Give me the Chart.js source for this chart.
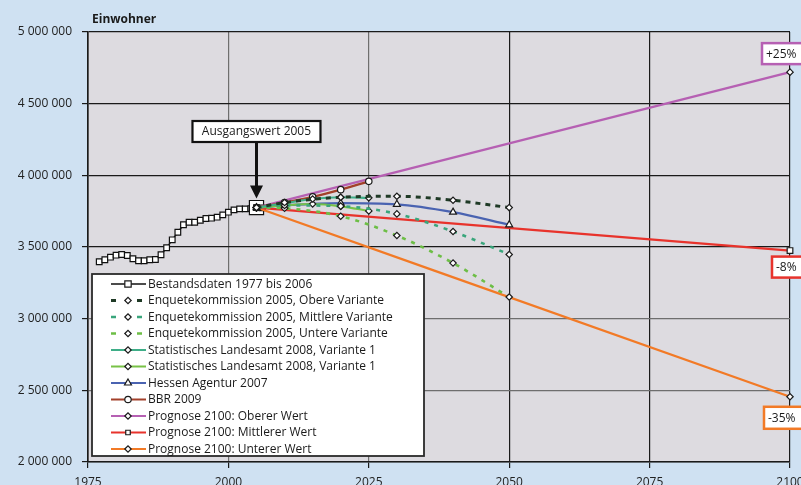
<!DOCTYPE html>
<html>
<head>
<meta charset="utf-8">
<script src="https://cdn.jsdelivr.net/npm/chart.js@4/dist/chart.umd.min.js"></script>
<style>
  html, body { margin: 0; padding: 0; background: #cfe1f2; overflow: hidden; }
  canvas { display: block; }
</style>
</head>
<body>
<canvas id="mycanvas" width="801" height="485"></canvas>
<script>
// Bestandsdaten 1977 bis 2006
var histYears = [1977, 1978, 1979, 1980, 1981, 1982, 1983, 1984, 1985, 1986,
                 1987, 1988, 1989, 1990, 1991, 1992, 1993, 1994, 1995, 1996,
                 1997, 1998, 1999, 2000, 2001, 2002, 2003, 2004, 2005, 2006];
var histValues = [3397000, 3411000, 3429000, 3443000, 3448000, 3441000, 3418000, 3404000, 3404000, 3411000,
                  3413000, 3446000, 3495000, 3550000, 3603000, 3655000, 3673000, 3673000, 3687000, 3699000,
                  3701000, 3708000, 3724000, 3743000, 3759000, 3766000, 3766000, 3768000, 3775000, 3773000];

// Enquetekommission 2005
var enqYears = [2005, 2010, 2020, 2030, 2040, 2050];
var enqOben = [3775000, 3810000, 3847000, 3854000, 3826000, 3775000];
var enqMitte = [3775000, 3790000, 3785000, 3731000, 3608000, 3448000];
var enqUnten = [3775000, 3770000, 3715000, 3580000, 3388000, 3151000];

// Statistisches Landesamt 2008
var slaYears = [2005, 2010, 2015, 2020, 2025];
var sla1 = [3775000, 3805000, 3835000, 3847000, 3843000];
var sla2 = [3775000, 3790000, 3800000, 3784000, 3752000];

// Hessen Agentur 2007
var hesYears = [2005, 2010, 2020, 2030, 2040, 2050];
var hesValues = [3775000, 3790000, 3806000, 3798000, 3743000, 3655000];

// BBR 2009
var bbrYears = [2005, 2010, 2015, 2020, 2025];
var bbrValues = [3775000, 3810000, 3850000, 3900000, 3958000];

// Prognose 2100
var progYears = [2005, 2100];
var progOben = [3775000, 4720000];
var progMitte = [3775000, 3475000];
var progUnten = [3775000, 2455000];
var progLabels = ['+25%', '-8%', '-35%'];

var xTicks = [1975, 2000, 2025, 2050, 2075, 2100];
var yTicks = [2000000, 2500000, 3000000, 3500000, 4000000, 4500000, 5000000];

function zip(xs, ys) {
  var out = [];
  for (var i in xs) out.push({x: xs[i], y: ys[i]});
  return out;
}
function fmt(v) {
  return String(v).replace(/\B(?=(\d{3})+(?!\d))/g, ' ');
}

var FONT = "'Open Sans', sans-serif";
var MARK = '#1a1a1a';

function proj(label, xs, ys, color, style, extra) {
  var ds = {
    label: label,
    data: zip(xs, ys),
    borderColor: color,
    borderWidth: 2.2,
    pointStyle: style,
    pointRadius: style === 'triangle' ? 4 : 3.2,
    pointBackgroundColor: '#fff',
    pointBorderColor: MARK,
    pointBorderWidth: 1.2,
    cubicInterpolationMode: 'monotone',
    clip: false,
    order: 1
  };
  for (var k in extra) ds[k] = extra[k];
  return ds;
}

var histRadius = histYears.map(function(y) { return y === 2005 ? 10 : 4; });

var datasets = [
  {
    label: 'Bestandsdaten 1977 bis 2006',
    data: zip(histYears, histValues),
    borderColor: '#111',
    borderWidth: 1.5,
    pointStyle: 'rect',
    pointRadius: histRadius,
    pointBackgroundColor: '#fff',
    pointBorderColor: '#111',
    pointBorderWidth: 1.2,
    legendRadius: 4.5,
    clip: false,
    order: 20
  },
  proj('Enquetekommission 2005, Obere Variante', enqYears, enqOben, '#1f3a26', 'rectRot', {borderDash: [5, 5], borderWidth: 3}),
  proj('Enquetekommission 2005, Mittlere Variante', enqYears, enqMitte, '#3aa67c', 'rectRot', {borderDash: [4, 6], borderWidth: 2.6}),
  proj('Enquetekommission 2005, Untere Variante', enqYears, enqUnten, '#6dbe46', 'rectRot', {borderDash: [4, 6], borderWidth: 2.6}),
  proj('Statistisches Landesamt 2008, Variante 1', slaYears, sla1, '#3fae88', 'rectRot', {order: 2}),
  proj('Statistisches Landesamt 2008, Variante 1', slaYears, sla2, '#78c246', 'rectRot', {order: 2}),
  proj('Hessen Agentur 2007', hesYears, hesValues, '#4a63b1', 'triangle', {order: 2}),
  proj('BBR 2009', bbrYears, bbrValues, '#a3412b', 'circle', {order: 2}),
  proj('Prognose 2100: Oberer Wert', progYears, progOben, '#b660b3', 'rectRot', {order: 3}),
  proj('Prognose 2100: Mittlerer Wert', progYears, progMitte, '#e8332c', 'rect', {order: 3, pointRadius: 4}),
  proj('Prognose 2100: Unterer Wert', progYears, progUnten, '#f27a26', 'rectRot', {order: 3})
];

function drawMark(ctx, style, r, x, y) {
  ctx.save();
  ctx.fillStyle = '#fff';
  ctx.strokeStyle = MARK;
  ctx.lineWidth = 1.2;
  Chart.helpers.drawPoint(ctx, {pointStyle: style, radius: r, rotation: 0, borderWidth: 1.2}, x, y);
  ctx.restore();
}

function tagBox(ctx, text, x, y, w, h, color) {
  ctx.fillStyle = '#fff';
  ctx.fillRect(x, y, w, h);
  ctx.strokeStyle = color;
  ctx.lineWidth = 2.5;
  ctx.strokeRect(x, y, w, h);
  ctx.fillStyle = '#1a1a1a';
  ctx.font = '12px ' + FONT;
  ctx.textBaseline = 'middle';
  ctx.textAlign = 'left';
  ctx.fillText(text, x + 4, y + h / 2 + 0.5);
}

var extras = {
  id: 'extras',
  beforeDraw: function(chart) {
    var ctx = chart.ctx, a = chart.chartArea;
    ctx.save();
    ctx.fillStyle = '#dddbe0';
    ctx.fillRect(a.left, a.top, a.right - a.left, a.bottom - a.top);
    ctx.restore();
  },
  afterDraw: function(chart) {
    var ctx = chart.ctx, a = chart.chartArea;
    var xs = chart.scales.x, ys = chart.scales.y;
    ctx.save();

    // axis title
    ctx.fillStyle = '#1a1a1a';
    ctx.font = 'bold 12px ' + FONT;
    ctx.textBaseline = 'middle';
    ctx.fillText('Einwohner', a.left + 4, 20);

    // legend
    var lx = a.left + 4, ly = 274, lw = 332, lh = 182;
    ctx.fillStyle = '#fff';
    ctx.fillRect(lx, ly, lw, lh);
    ctx.strokeStyle = '#2a2a2a';
    ctx.lineWidth = 1.8;
    ctx.strokeRect(lx, ly, lw, lh);
    chart.data.datasets.forEach(function(ds, i) {
      var y = ly + 10 + i * 16.5;
      ctx.strokeStyle = ds.borderColor;
      ctx.lineWidth = ds.borderWidth;
      ctx.beginPath();
      if (ds.borderDash) {
        ctx.moveTo(lx + 19, y); ctx.lineTo(lx + 24, y);
        ctx.moveTo(lx + 45, y); ctx.lineTo(lx + 50, y);
      } else {
        ctx.moveTo(lx + 19, y); ctx.lineTo(lx + 54, y);
      }
      ctx.stroke();
      var r = ds.legendRadius || (ds.pointStyle === 'triangle' ? 4 : 3.2);
      drawMark(ctx, ds.pointStyle, r, lx + 36, y);
      ctx.fillStyle = '#1a1a1a';
      ctx.font = '12px ' + FONT;
      ctx.textBaseline = 'middle';
      ctx.textAlign = 'left';
      ctx.fillText(ds.label, lx + 56, y + 0.5);
    });

    // Ausgangswert 2005
    var px = xs.getPixelForValue(2005);
    var py = ys.getPixelForValue(histValues[histYears.indexOf(2005)]);
    ctx.fillStyle = '#fff';
    ctx.fillRect(px - 64, 121, 128, 21);
    ctx.strokeStyle = '#111';
    ctx.lineWidth = 2.2;
    ctx.strokeRect(px - 64, 121, 128, 21);
    ctx.fillStyle = '#1a1a1a';
    ctx.font = '12px ' + FONT;
    ctx.textAlign = 'center';
    ctx.fillText('Ausgangswert 2005', px, 131.5);
    ctx.strokeStyle = '#111';
    ctx.lineWidth = 3;
    ctx.beginPath();
    ctx.moveTo(px, 142);
    ctx.lineTo(px, py - 20);
    ctx.stroke();
    ctx.fillStyle = '#111';
    ctx.beginPath();
    ctx.moveTo(px - 6.5, py - 22);
    ctx.lineTo(px + 6.5, py - 22);
    ctx.lineTo(px, py - 9);
    ctx.closePath();
    ctx.fill();

    // percentage tags at 2100
    var ex = xs.getPixelForValue(2100);
    var eTop = ys.getPixelForValue(progOben[1]);
    var eMid = ys.getPixelForValue(progMitte[1]);
    var eLow = ys.getPixelForValue(progUnten[1]);
    tagBox(ctx, progLabels[0], ex - 28, eTop - 29, 50, 21, '#b660b3');
    tagBox(ctx, progLabels[1], ex - 18, eMid + 6, 50, 21, '#e8332c');
    tagBox(ctx, progLabels[2], ex - 26, eLow + 10, 50, 22, '#f27a26');
    ctx.restore();
  }
};

var ctx = document.getElementById('mycanvas');
var chart = new Chart(ctx, {
  type: 'line',
  data: { datasets: datasets },
  options: {
    responsive: false,
    animation: false,
    layout: { padding: { top: 32, right: 11, left: 0, bottom: 0 } },
    plugins: { legend: { display: false }, tooltip: { enabled: false } },
    scales: {
      x: {
        type: 'linear',
        min: 1975, max: 2100,
        afterBuildTicks: function(s) { s.ticks = xTicks.map(function(v) { return {value: v}; }); },
        afterFit: function(s) { s.height = 23; s.paddingLeft = 0; s.paddingRight = 0; },
        ticks: {
          color: '#222', font: { family: FONT, size: 12 }, padding: 7, maxRotation: 0, autoSkip: false,
          callback: function(v) { return String(v); }
        },
        grid: {
          color: function(c) { return (c.tick && (c.tick.value === 2000 || c.tick.value === 2025)) ? '#6e6e6e' : '#1a1a1a'; },
          lineWidth: 1.2,
          tickColor: '#1a1a1a',
          tickLength: 6
        },
        border: { color: '#1a1a1a', width: 1.6 }
      },
      y: {
        min: 2000000, max: 5000000,
        afterBuildTicks: function(s) { s.ticks = yTicks.map(function(v) { return {value: v}; }); },
        afterFit: function(s) { s.width = 88; s.paddingTop = 0; s.paddingBottom = 0; },
        ticks: {
          color: '#222', font: { family: FONT, size: 12 }, padding: 10,
          callback: function(v) { return fmt(v); }
        },
        grid: {
          color: function(c) { return (c.tick && c.tick.value <= 3000000) ? '#6e6e6e' : '#1a1a1a'; },
          lineWidth: 1.2,
          tickColor: '#1a1a1a',
          tickLength: 6
        },
        border: { color: '#1a1a1a', width: 1.6 }
      }
    }
  },
  plugins: [extras]
});
</script>
</body>
</html>
